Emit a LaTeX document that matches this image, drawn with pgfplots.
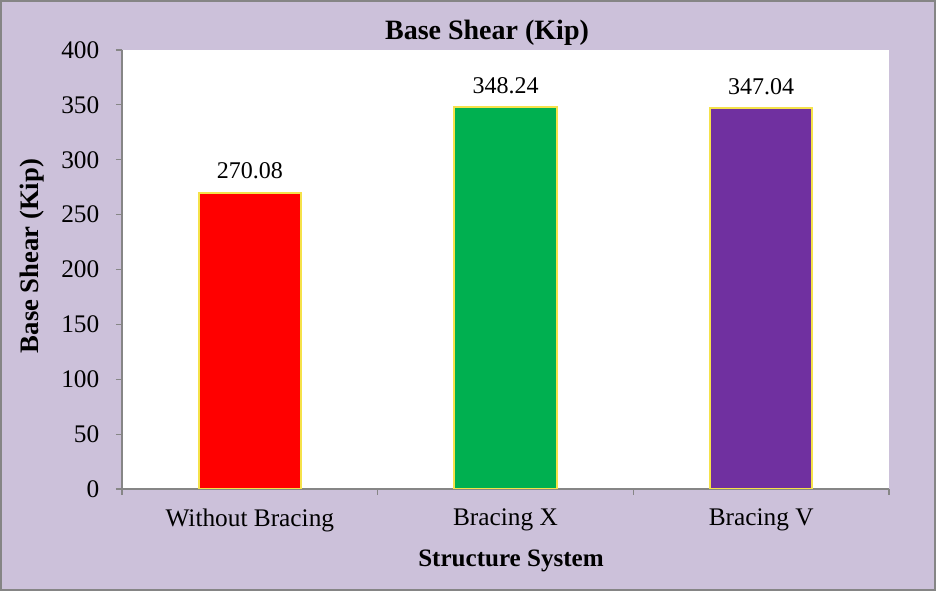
\documentclass[border=0pt]{standalone}
\usepackage{pgfplots}
\pgfplotsset{compat=1.18}
\usepackage{fontspec}
\setmainfont{Liberation Serif}
\definecolor{bgc}{HTML}{CCC1DA}
\definecolor{bordc}{HTML}{858585}
\definecolor{axc}{HTML}{868686}
\definecolor{cred}{HTML}{FF0000}
\definecolor{cgreen}{HTML}{00B050}
\definecolor{cpurple}{HTML}{7030A0}
\definecolor{cyel}{HTML}{F5E24A}
\begin{document}
\begin{tikzpicture}
\fill[bgc] (-91.5pt,-76.5pt) rectangle (610.5pt,366.75pt);
\draw[bordc,line width=1.5pt] (-90.75pt,-75.75pt) rectangle (609.75pt,366pt);
\begin{axis}[
  at={(0,0)}, anchor=south west,
  scale only axis, width=575.25pt, height=329.25pt,
  axis background/.style={fill=white},
  xmin=-0.5, xmax=2.5, ymin=0, ymax=400,
  ytick={0,50,...,400},
  xtick={0,1,2},
  xticklabels={Without Bracing,Bracing X,Bracing V},
  minor xtick={-0.5,0.5,1.5,2.5},
  major x tick style={draw=none},
  minor x tick style={draw=axc, line width=0.8pt},
  minor tick length=4.5pt,
  axis x line*=bottom, axis y line*=left,
  axis line style={axc,line width=0.8pt,-},
  y tick style={axc, line width=0.8pt}, tick align=outside, major tick length=4.5pt,
  ticklabel style={font=\fontsize{19}{21}\selectfont},
  /pgf/number format/assume math mode=true,
  yticklabel style={xshift=-9pt},
  xticklabel style={yshift=-7pt},
  ybar, bar width=0.4, bar shift=0pt,
  nodes near coords,
  nodes near coords style={font=\fontsize{18}{20}\selectfont, /pgf/number format/fixed, /pgf/number format/precision=2, /pgf/number format/fixed zerofill, /pgf/number format/assume math mode=true, yshift=6pt},
]
\addplot[fill=cred, draw=cyel, line width=1.5pt] coordinates {(0,270.08)};
\addplot[fill=cgreen, draw=cyel, line width=1.5pt] coordinates {(1,348.24)};
\addplot[fill=cpurple, draw=cyel, line width=1.5pt] coordinates {(2,347.04)};
\end{axis}
\node[font=\fontsize{21}{24}\selectfont\bfseries] at (273.75pt,342pt) {Base Shear (Kip)};
\node[font=\fontsize{20}{23}\selectfont\bfseries, rotate=90] at (-67.5pt,174.75pt) {Base Shear (Kip)};
\node[font=\fontsize{18.8}{22}\selectfont\bfseries] at (291.75pt,-54pt) {Structure System};
\end{tikzpicture}
\end{document}
